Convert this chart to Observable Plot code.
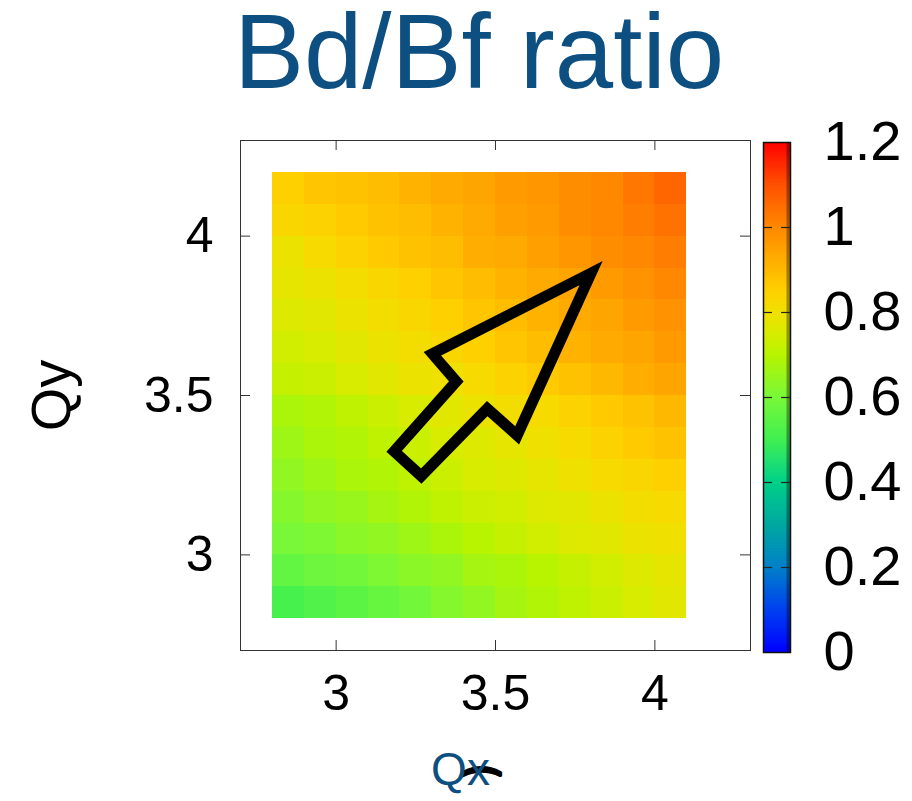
<!DOCTYPE html>
<html><head><meta charset="utf-8">
<script src="https://cdn.jsdelivr.net/npm/d3@7"></script>
<script src="https://cdn.jsdelivr.net/npm/@observablehq/plot@0.6"></script>
<style>
html,body{margin:0;padding:0;background:#fff;overflow:hidden;font-family:"Liberation Sans",Arial,sans-serif;}
#wrap{position:relative;width:912px;height:801px;overflow:hidden;}
#title{position:absolute;left:0;top:0;width:912px;text-align:center;white-space:nowrap;font-size:105px;line-height:104px;color:#0d4f80;}
#title span{position:relative;left:23px;}
#main{position:absolute;left:0;top:120px;}
#bar{position:absolute;left:763px;top:120px;}
</style></head><body>
<div id="wrap"><div id="title"><span id="titletext"></span></div><div id="main"></div><div id="bar"></div></div>
<script>
const titleText = "Bd/Bf ratio";
const xLabel = "Qx";
const yLabel = "Qy";
const qx = [2.85,2.95,3.05,3.15,3.25,3.35,3.45,3.55,3.65,3.75,3.85,3.95,4.05];
const qy = [4.15,4.05,3.95,3.85,3.75,3.65,3.55,3.45,3.35,3.25,3.15,3.05,2.95,2.85];
const ratio = [
  [0.85,0.87,0.88,0.89,0.91,0.93,0.94,0.96,0.97,0.99,1.00,1.03,1.06],
  [0.83,0.84,0.86,0.88,0.89,0.91,0.93,0.95,0.96,0.99,1.00,1.02,1.04],
  [0.79,0.82,0.84,0.86,0.88,0.89,0.92,0.93,0.95,0.97,0.99,1.00,1.02],
  [0.78,0.79,0.81,0.83,0.85,0.87,0.89,0.91,0.93,0.94,0.96,0.98,1.00],
  [0.76,0.77,0.79,0.81,0.83,0.85,0.87,0.89,0.91,0.93,0.94,0.96,0.98],
  [0.74,0.75,0.77,0.79,0.81,0.83,0.85,0.87,0.89,0.91,0.93,0.94,0.96],
  [0.72,0.73,0.75,0.77,0.79,0.80,0.82,0.84,0.86,0.88,0.90,0.92,0.94],
  [0.68,0.69,0.71,0.73,0.75,0.77,0.79,0.81,0.82,0.84,0.86,0.88,0.90],
  [0.66,0.68,0.69,0.71,0.73,0.75,0.76,0.78,0.80,0.82,0.84,0.86,0.88],
  [0.64,0.66,0.68,0.69,0.71,0.73,0.75,0.76,0.78,0.80,0.82,0.83,0.85],
  [0.62,0.64,0.65,0.67,0.69,0.71,0.73,0.74,0.76,0.77,0.79,0.81,0.82],
  [0.60,0.61,0.63,0.64,0.66,0.68,0.70,0.72,0.74,0.76,0.77,0.79,0.80],
  [0.56,0.58,0.59,0.61,0.63,0.64,0.67,0.68,0.70,0.72,0.74,0.76,0.78],
  [0.51,0.53,0.55,0.57,0.59,0.62,0.64,0.67,0.69,0.71,0.73,0.75,0.77]
];
const cellSize = 0.1;
const xTicks = [3, 3.5, 4];
const yTicks = [3, 3.5, 4];
const cbTicks = [0, 0.2, 0.4, 0.6, 0.8, 1, 1.2];
// arrow outline vertices (Qx, Qy)
const arrowX = [3.800, 3.302, 3.377, 3.182, 3.267, 3.474, 3.568];
const arrowY = [3.884, 3.631, 3.544, 3.325, 3.247, 3.459, 3.375];
// colormap
const colorStops = [0, 0.1, 0.2, 0.3, 0.4, 0.45, 0.5, 0.6, 0.7, 0.75, 0.8, 0.85, 0.9, 0.95, 1.0, 1.1, 1.2];
const colorList = ["#0000ff","#0040f0","#0080c8","#00a8a0","#00d088","#20e070","#40f050","#78f838","#b8f400","#d8ec00","#f0e000","#ffd000","#ffb800","#ffa000","#ff8800","#ff5000","#ff0000"];

const cells = [];
qy.forEach((y, i) => qx.forEach((x, j) => cells.push({x, y, v: ratio[i][j]})));
const arrow = arrowX.map((x, i) => ({x, y: arrowY[i]}));
const colorOpts = {type: "linear", domain: colorStops, range: colorList, interpolate: "rgb", clamp: true};
const FONT = "'Liberation Sans', Arial, sans-serif";
const blue = "#0d4f80";

document.getElementById("titletext").textContent = titleText;

const main = Plot.plot({
  width: 912, height: 681,
  marginTop: 20, marginBottom: 151, marginLeft: 240, marginRight: 162,
  style: {fontFamily: FONT, fontSize: "50px", background: "transparent"},
  x: {domain: [2.7, 4.3], label: null},
  y: {domain: [2.7, 4.3], label: null},
  color: colorOpts,
  marks: [
    Plot.rect(cells, {x1: d => d.x - cellSize/2, x2: d => d.x + cellSize/2, y1: d => d.y - cellSize/2, y2: d => d.y + cellSize/2, fill: "v", shapeRendering: "crispEdges"}),
    Plot.line(arrow, {x: "x", y: "y", stroke: "#000", strokeWidth: 11, strokeLinejoin: "miter", strokeMiterlimit: 10, curve: "linear-closed"}),
    Plot.frame({stroke: "#333", strokeWidth: 1}),
    Plot.tickX(xTicks, {x: d => d, insetTop: 500, stroke: "#333"}),
    Plot.tickX(xTicks, {x: d => d, insetBottom: 500, stroke: "#333"}),
    Plot.tickY(yTicks, {y: d => d, insetRight: 500, stroke: "#333"}),
    Plot.tickY(yTicks, {y: d => d, insetLeft: 500, stroke: "#333"}),
    Plot.axisX(xTicks, {tickSize: 0, tickPadding: 24, tickFormat: d => String(d), fill: "#000", label: null}),
    Plot.axisY(yTicks, {tickSize: 0, tickPadding: 27, tickFormat: d => String(d), fill: "#000", label: null}),
    Plot.text([yLabel], {frameAnchor: "left", dx: -188, rotate: -90, textAnchor: "middle", lineAnchor: "middle", fontSize: 56, fill: "#000"}),
    Plot.text(["\u2040"], {frameAnchor: "bottom", dx: -14, dy: 157, lineAnchor: "bottom", textAnchor: "middle", fontSize: 42, fill: "#000", stroke: "#000", strokeWidth: 3.5, fontFamily: "DejaVu Sans"}),
    Plot.text([xLabel], {frameAnchor: "bottom", dx: -35, dy: 120, lineAnchor: "middle", textAnchor: "middle", fontSize: 46, fill: blue})
  ]
});
document.getElementById("main").appendChild(main);

const step = 0.004;
const ramp = d3.range(0, 1.2, step);
const bar = Plot.plot({
  width: 149, height: 681,
  marginTop: 22, marginBottom: 149, marginLeft: 0, marginRight: 122,
  style: {fontFamily: FONT, fontSize: "56px", background: "transparent", overflow: "visible"},
  x: {domain: [0, 1], axis: null},
  y: {domain: [0, 1.2], label: null},
  color: colorOpts,
  marks: [
    Plot.rect(ramp, {x1: 0, x2: 1, y1: d => d, y2: d => Math.min(1.2, d + step + 0.001), fill: d => d + step/2, shapeRendering: "crispEdges"}),
    Plot.ruleX([1], {stroke: "#000", strokeOpacity: 0.35, strokeWidth: 4, dx: -2}),
    Plot.ruleY(cbTicks.slice(1, -1), {x1: 0, x2: 0.33, stroke: "#222", strokeWidth: 1.2}),
    Plot.ruleY(cbTicks.slice(1, -1), {x1: 0.67, x2: 1, stroke: "#222", strokeWidth: 1.2}),
    Plot.frame({stroke: "#111", strokeWidth: 1.5}),
    Plot.axisY(cbTicks, {anchor: "right", tickSize: 0, tickPadding: 33, tickFormat: d => String(d), fill: "#000", label: null})
  ]
});
document.getElementById("bar").appendChild(bar);
</script>
</body></html>
